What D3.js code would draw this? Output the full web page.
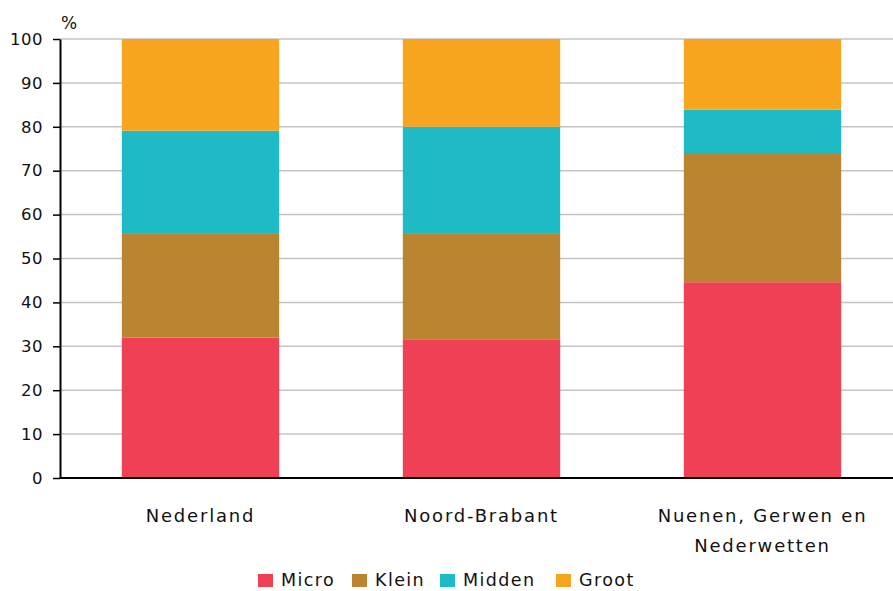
<!DOCTYPE html>
<html><head><meta charset="utf-8">
<script src="https://cdn.jsdelivr.net/npm/d3@7"></script>
<style>
html,body{margin:0;padding:0;background:#fff;}
text{font-family:"DejaVu Sans",Verdana,sans-serif;fill:#111;}
</style></head>
<body><svg id="c" width="893" height="591"></svg>
<script>
const categories = [["Nederland"], ["Noord-Brabant"], ["Nuenen, Gerwen en", "Nederwetten"]];
const seriesNames = ["Micro", "Klein", "Midden", "Groot"];
const micro  = [32.0, 31.6, 44.6];
const klein  = [23.6, 24.0, 29.2];
const midden = [23.5, 24.4, 10.1];
const groot  = [20.9, 20.0, 16.1];
const yTicks = [0, 10, 20, 30, 40, 50, 60, 70, 80, 90, 100];
const colors = ["#EF4056", "#BA8430", "#1EBAC5", "#F7A51E"];

(function () {
const svg = d3.select("#c");
const mLeft = 60, mRight = 903, mTop = 39, mBottom = 478;
const keys = categories.map(c => c.join(" "));
const x = d3.scaleBand().domain(keys).range([mLeft, mRight]).paddingInner(0.44).paddingOuter(0.22);
const y = d3.scaleLinear().domain([0, 100]).range([mBottom, mTop]);

// gridlines
svg.append("g").selectAll("line").data(yTicks.filter(d => d > 0)).join("line")
  .attr("x1", mLeft).attr("x2", 893)
  .attr("y1", d => y(d)).attr("y2", d => y(d))
  .attr("stroke", "#c4c4c4").attr("stroke-width", 1.5);

// stacked bars
const rows = keys.map((k, i) => ({key: k, Micro: micro[i], Klein: klein[i], Midden: midden[i], Groot: groot[i]}));
const stack = d3.stack().keys(seriesNames)(rows);
svg.append("g").selectAll("g").data(stack).join("g")
  .attr("fill", (d, i) => colors[i])
  .selectAll("rect").data(d => d).join("rect")
  .attr("x", d => x(d.data.key)).attr("width", x.bandwidth())
  .attr("y", d => y(d[1])).attr("height", d => y(d[0]) - y(d[1]));

// y axis
const yAxis = svg.append("g").attr("transform", `translate(${mLeft},0)`)
  .call(d3.axisLeft(y).tickValues(yTicks).tickSize(7).tickPadding(10).tickSizeOuter(0));
yAxis.select(".domain").attr("stroke", "#000").attr("stroke-width", 2);
yAxis.selectAll(".tick line").attr("stroke", "#000").attr("stroke-width", 1.5);
yAxis.selectAll(".tick text").attr("font-size", "16.5px").attr("letter-spacing", "0.5px")
  .attr("font-family", "DejaVu Sans").attr("fill", "#111");

// x axis line
svg.append("line").attr("x1", mLeft).attr("x2", 893).attr("y1", mBottom).attr("y2", mBottom)
  .attr("stroke", "#000").attr("stroke-width", 2);

// % label
svg.append("text").attr("x", 61).attr("y", 29).attr("font-size", "17px").text("%");

// category labels
categories.forEach((lines, i) => {
  const cx = x(keys[i]) + x.bandwidth() / 2;
  const t = svg.append("text").attr("text-anchor", "middle")
    .attr("x", cx).attr("y", 522)
    .attr("font-size", "18px").attr("letter-spacing", "1.8px");
  lines.forEach((l, j) => t.append("tspan").attr("x", cx).attr("dy", j ? 30 : 0).text(l));
});

// legend
const legendX = [258, 352, 440, 556];
const lg = svg.append("g");
seriesNames.forEach((s, i) => {
  lg.append("rect").attr("x", legendX[i]).attr("y", 574).attr("width", 15).attr("height", 13).attr("fill", colors[i]);
  lg.append("text").attr("x", legendX[i] + 23).attr("y", 586).attr("font-size", "17.5px")
    .attr("letter-spacing", "1.4px").text(s);
});
})();
</script></body></html>
